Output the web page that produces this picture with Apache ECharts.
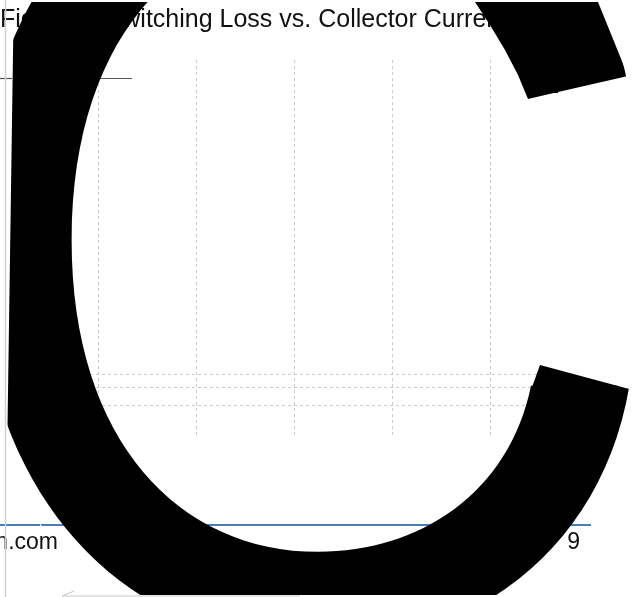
<!DOCTYPE html>
<html>
<head>
<meta charset="utf-8">
<script src="https://cdn.jsdelivr.net/npm/echarts@6/dist/echarts.min.js"></script>
<style>
html,body{margin:0;padding:0;background:#fff;}
#chart{width:634px;height:597px;}
</style>
</head>
<body>
<div id="chart"></div>
<script>
// Chart content
const titleText = 'Figure 9. Switching Loss vs. Collector Current';
const xRange = [0, 5.65];          // collector current axis extent (grid columns)
const xInterval = 1;
const yRange = [1, 4500];          // log-scale loss axis extent
const refLevels = [2, 3, 4];       // dashed reference levels
const footerLeft = 'www.infineon.com';
const footerRight = '9';
const bigGlyph = 'C';

const chart = echarts.init(document.getElementById('chart'));
const FONT = '"Liberation Sans", Arial, sans-serif';

chart.setOption({
  backgroundColor: '#fff',
  animation: false,
  title: {
    text: titleText, left: 0, top: 8, padding: 0,
    textStyle: { fontFamily: FONT, fontSize: 25, fontWeight: 'normal', color: '#111' }
  },
  grid: { left: 0, top: 60, width: 554, height: 376, containLabel: false },
  xAxis: {
    type: 'value', min: xRange[0], max: xRange[1], interval: xInterval,
    axisLine: { show: false }, axisTick: { show: false }, axisLabel: { show: false },
    splitLine: { show: true, showMinLine: false, showMaxLine: false,
      lineStyle: { color: '#cccccc', width: 1, type: [3, 3] } }
  },
  yAxis: {
    type: 'log', min: yRange[0], max: yRange[1],
    axisLine: { show: false }, axisTick: { show: false }, axisLabel: { show: false },
    splitLine: { show: false }
  },
  series: [{
    type: 'line', data: [], silent: true,
    markLine: {
      silent: true, symbol: ['none', 'none'], label: { show: false },
      lineStyle: { color: '#cccccc', width: 1, type: [3, 3] },
      data: refLevels.map(v => ({ yAxis: v }))
    }
  }],
  graphic: [
    // thin rule under the title (left)
    { type: 'line', z: 1, shape: { x1: 0, y1: 78.5, x2: 132, y2: 78.5 },
      style: { stroke: '#555', lineWidth: 1.2 } },
    // footer blue rule
    { type: 'line', z: 1, shape: { x1: 0, y1: 525, x2: 591, y2: 525 },
      style: { stroke: '#4a7ebb', lineWidth: 2 } },
    { type: 'text', z: 1, x: 580, y: 543,
      style: { text: footerRight, font: '23px ' + FONT, fill: '#111', align: 'right', verticalAlign: 'middle' } },
    // giant glyph
    { type: 'text', z: 50, x: 300, y: 308, scaleX: 0.947, scaleY: 0.97,
      style: { text: bigGlyph, font: '1120px Inter', fill: '#000', align: 'center', verticalAlign: 'middle' } },
    // terminal shaping (slanted cuts)
    { type: 'polygon', z: 55, shape: { points: [[475, 2], [490, 25], [505, 50], [518, 75], [528, 99], [558, 92.1], [558, 86], [546, 86], [541, 60], [534, 30], [526, 2]] },
      style: { fill: '#000' } },
    { type: 'polygon', z: 55, shape: { points: [[598, 2], [634, 2], [634, 97], [558, 97], [558, 92.1], [628, 76]] },
      style: { fill: '#fff' } },
    { type: 'polygon', z: 55, shape: { points: [[540, 365], [618, 386], [618, 390], [531, 390]] },
      style: { fill: '#000' } },
    { type: 'polygon', z: 55, shape: { points: [[618, 385], [634, 385], [634, 390.3], [618, 386]] },
      style: { fill: '#fff' } },
    // clipping mask along the left page edge
    { type: 'polygon', z: 60, shape: { points: [[0, 33], [13.3, 33], [7, 460], [20, 485], [30, 505], [41, 525], [61, 547], [88, 572], [118, 595], [0, 595]] },
      style: { fill: '#fff' } },
    { type: 'rect', z: 60, shape: { x: 0, y: 0, width: 634, height: 2 }, style: { fill: '#fff' } },
    { type: 'rect', z: 60, shape: { x: 0, y: 595, width: 634, height: 2 }, style: { fill: '#fff' } },
    // pieces visible left of the glyph
    { type: 'line', z: 70, shape: { x1: 0, y1: 78.5, x2: 12, y2: 78.5 },
      style: { stroke: '#555', lineWidth: 1.2 } },
    { type: 'line', z: 70, shape: { x1: 0, y1: 525, x2: 40, y2: 525 },
      style: { stroke: '#4a7ebb', lineWidth: 2 } },
    { type: 'text', z: 70, x: 58, y: 543,
      style: { text: footerLeft, font: '23px ' + FONT, fill: '#111', align: 'right', verticalAlign: 'middle' } },
    // page edge line
    { type: 'line', z: 70, shape: { x1: 5.5, y1: 0, x2: 5.5, y2: 597 },
      style: { stroke: '#d0d0d0', lineWidth: 1.5 } },
    { type: 'polyline', z: 70, shape: { points: [[74, 591], [62, 596], [300, 596]] },
      style: { stroke: '#c8c8c8', lineWidth: 1, fill: null } }
  ]
});
</script>
</body>
</html>
